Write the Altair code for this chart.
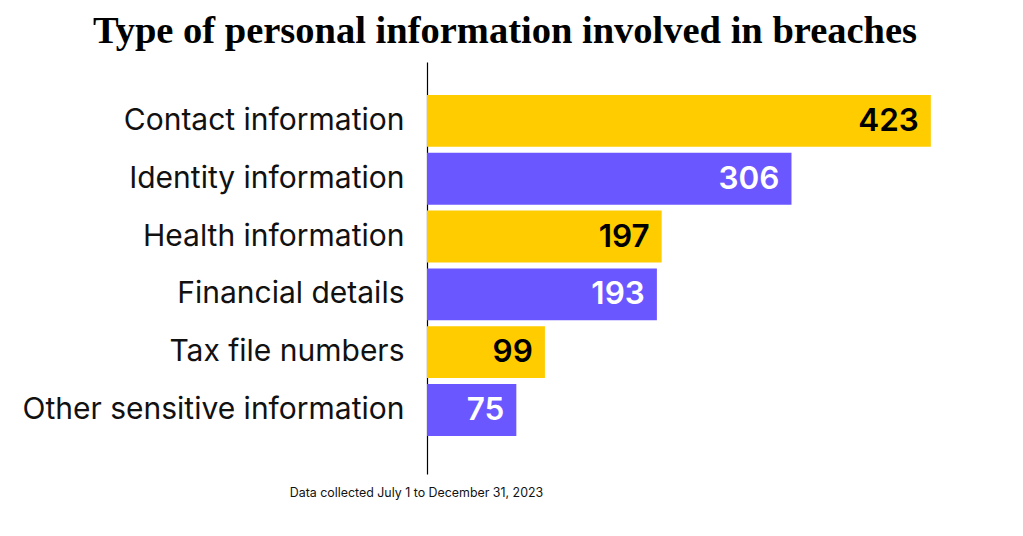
import altair as alt
import pandas as pd

categories = ["Contact information", "Identity information", "Health information",
              "Financial details", "Tax file numbers", "Other sensitive information"]
values = [423, 306, 197, 193, 99, 75]
palette = ["#FFCC00", "#6B57FF"]
text_palette = ["#000000", "#FFFFFF"]

df = pd.DataFrame({
    "category": categories,
    "value": values,
    "group": [("a" if i % 2 == 0 else "b") for i in range(len(categories))],
})

y = alt.Y("category:N", sort=categories,
          scale=alt.Scale(paddingInner=0.103, paddingOuter=0.615, align=0.464),
          axis=alt.Axis(title=None, ticks=False, domainColor="#000000", domainWidth=1.2,
                        labelFont="Inter", labelFontSize=30, labelColor="#111111",
                        labelPadding=23, labelLimit=500))
x = alt.X("value:Q", scale=alt.Scale(domain=[0, 450], nice=False),
          axis=alt.Axis(grid=False, domain=False, ticks=False, labels=False,
                        title="Data collected July 1 to December 31, 2023",
                        titleFont="Inter", titleFontSize=12.4, titleFontWeight="normal",
                        titleColor="#111111", titleX=-11, titleY=12, titleAlign="center"))

bars = alt.Chart(df).mark_bar().encode(
    x=x, y=y,
    color=alt.Color("group:N", scale=alt.Scale(domain=["a", "b"], range=palette), legend=None),
)
labels = alt.Chart(df).mark_text(align="right", baseline="middle", dx=-12, dy=1,
                                 font="Inter", fontSize=31.5, fontWeight=600).encode(
    x="value:Q", y=alt.Y("category:N", sort=categories),
    text="value:Q",
    color=alt.Color("group:N", scale=alt.Scale(domain=["a", "b"], range=text_palette), legend=None),
)

chart = alt.layer(bars, labels).resolve_scale(color="independent").properties(
    width=536, height=412,
    padding={"left": 419, "top": 54, "right": 50, "bottom": 50},
    autosize=alt.AutoSizeParams(type="none"),
    title=alt.TitleParams("Type of personal information involved in breaches",
                          font="Liberation Serif", fontSize=38.5, fontWeight="bold",
                          color="#000000", anchor="middle", dx=-190, offset=11),
).configure_view(stroke=None)

chart.save("out.html", embed_options={"renderer": "svg", "actions": False})
